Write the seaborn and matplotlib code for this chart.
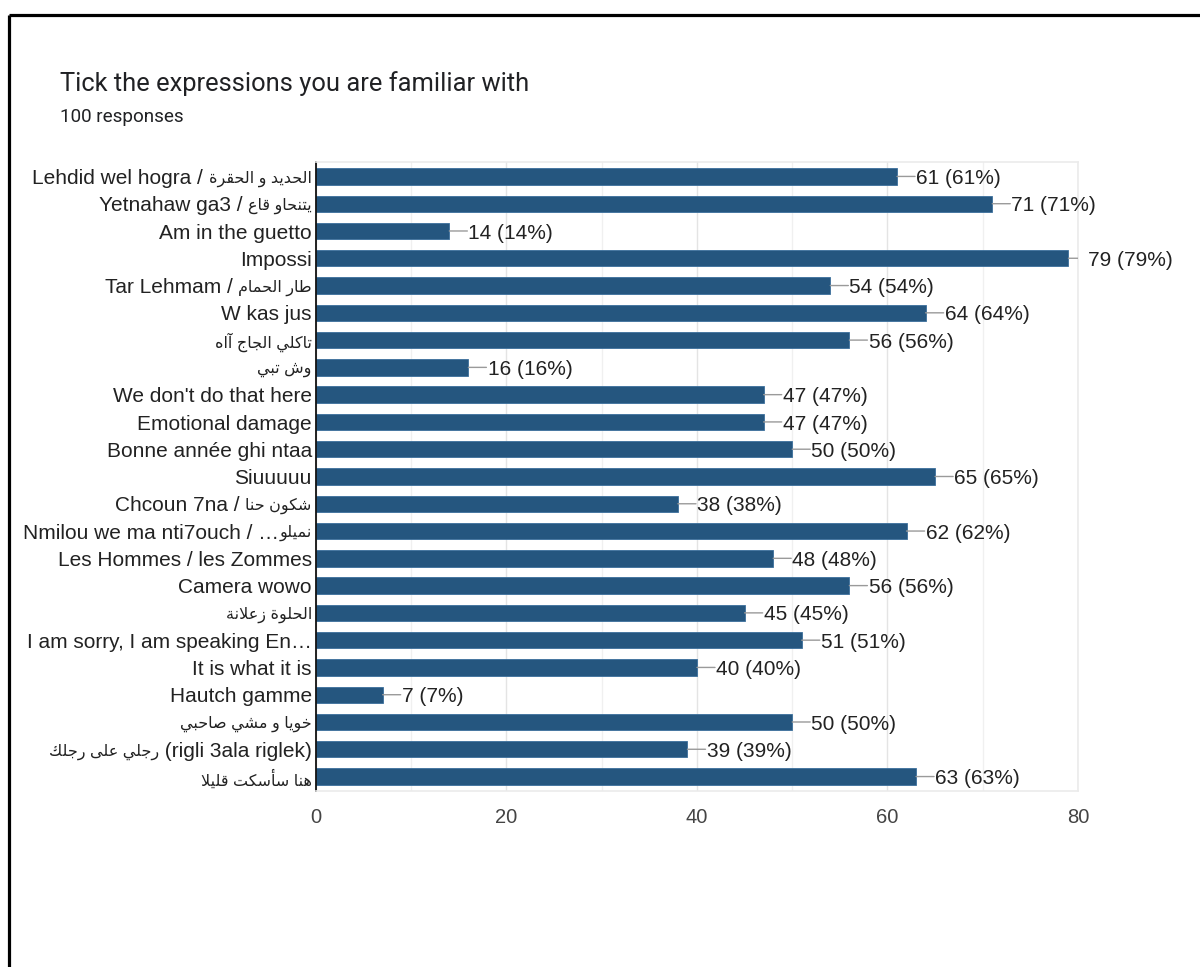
import re
import matplotlib
matplotlib.use("Agg")
import matplotlib.pyplot as plt
from matplotlib.lines import Line2D
from matplotlib.ticker import MultipleLocator
import seaborn as sns
import pandas as pd

# ---- data -----------------------------------------------------------------
title = "Tick the expressions you are familiar with"
n_responses = 100

expressions = [
    "Lehdid wel hogra / الحديد و الحقرة",
    "Yetnahaw ga3 / يتنحاو قاع",
    "Am in the guetto",
    "Impossi",
    "Tar Lehmam / طار الحمام",
    "W kas jus",
    "تاكلي الجاج آاه",
    "وش تبي",
    "We don't do that here",
    "Emotional damage",
    "Bonne année ghi ntaa",
    "Siuuuuu",
    "Chcoun 7na / شكون حنا",
    "Nmilou we ma nti7ouch / …نميلو",
    "Les Hommes / les Zommes",
    "Camera wowo",
    "الحلوة زعلانة",
    "I am sorry, I am speaking En…",
    "It is what it is",
    "Hautch gamme",
    "خويا و مشي صاحبي",
    "رجلي على رجلك (rigli 3ala riglek)",
    "هنا سأسكت قليلا",
]
counts = [61, 71, 14, 79, 54, 64, 56, 16, 47, 47, 50, 65, 38, 62, 48, 56,
          45, 51, 40, 7, 50, 39, 63]

x_ticks = [0, 20, 40, 60, 80]

# ---- minimal Arabic shaping (matplotlib has no complex text layout) -------
_letters = [chr(c) for c in list(range(0x621, 0x63B)) + list(range(0x641, 0x64B))]
_nforms = [1, 2, 2, 2, 2, 4, 2, 4, 2, 4, 4, 4, 4, 4, 2, 2, 2, 2, 4, 4,
           4, 4, 4, 4, 4, 4, 4, 4, 4, 4, 4, 4, 4, 2, 2, 4]
_forms = {}
_base = 0xFE80
for _ch, _n in zip(_letters, _nforms):
    _forms[_ch] = [chr(_base + k) for k in range(_n)]  # iso, fin, ini, med
    _base += _n
_LAM = "\u0644"
_LAMALEF = {"\u0622": 0xFEF5, "\u0623": 0xFEF7, "\u0625": 0xFEF9, "\u0627": 0xFEFB}


def _dual(ch):
    return ch in _forms and len(_forms[ch]) == 4


def _shape_run(run):
    chars = list(run)
    out = []
    i = 0
    n = len(chars)
    while i < n:
        c = chars[i]
        if c not in _forms:
            out.append(c)
            i += 1
            continue
        prev_join = i > 0 and _dual(chars[i - 1])
        if c == _LAM and i + 1 < n and chars[i + 1] in _LAMALEF:
            out.append(chr(_LAMALEF[chars[i + 1]] + (1 if prev_join else 0)))
            i += 2
            continue
        next_join = _dual(c) and i + 1 < n and chars[i + 1] in _forms
        f = _forms[c]
        if len(f) == 1:
            g = f[0]
        elif len(f) == 2:
            g = f[1] if prev_join else f[0]
        else:
            if prev_join and next_join:
                g = f[3]
            elif prev_join:
                g = f[1]
            elif next_join:
                g = f[2]
            else:
                g = f[0]
        out.append(g)
        i += 1
    return "".join(reversed(out))


_arabic_run = re.compile(r"[\u0600-\u06FF]+(?:\s+[\u0600-\u06FF]+)*")
_shaped_run = re.compile(r"([\uFE70-\uFEFF]+(?:\s+[\uFE70-\uFEFF]+)*)")


def display_segments(s):
    """Visual-order pieces of a label, each flagged as Arabic or not."""
    visual = _arabic_run.sub(lambda m: _shape_run(m.group(0)), s)
    parts = [p for p in _shaped_run.split(visual) if p]
    return [(p, bool(_shaped_run.fullmatch(p))) for p in parts]


# ---- style ----------------------------------------------------------------
sns.set_style("white")
plt.rcParams["font.family"] = ["Liberation Sans", "DejaVu Sans"]

bar_color = "#25567f"
text_color = "#222222"
latin_size = 15
arabic_size = 11.5
text_drop = -1.5  # points; puts the label's visual middle on the bar centre

df = pd.DataFrame({"expression": expressions, "count": counts})

fig = plt.figure(figsize=(12, 9.67), dpi=100)
ax = fig.add_axes([0.2633, 0.182, 0.635, 0.6505])

sns.barplot(data=df, x="count", y="expression", orient="h", color=bar_color,
            saturation=1, width=0.6, ax=ax, edgecolor="#3b6f9c", linewidth=0.6)

ax.set_xlim(0, 80)
ax.set_ylim(len(counts) - 0.47, -0.53)
ax.set_xticks(x_ticks)
ax.xaxis.set_minor_locator(MultipleLocator(10))
ax.grid(axis="x", which="major", color="#e4e4e4", linewidth=1)
ax.grid(axis="x", which="minor", color="#f0f0f0", linewidth=1)
ax.set_axisbelow(True)
ax.set_xlabel("")
ax.set_ylabel("")
ax.set_yticklabels([])

for side in ["top", "right", "bottom"]:
    ax.spines[side].set_color("#ebebeb")
    ax.spines[side].set_linewidth(1.2)
ax.spines["left"].set_color("#111111")
ax.spines["left"].set_linewidth(1.3)

ax.tick_params(axis="y", length=0)
ax.tick_params(axis="x", which="both", length=0, pad=12, labelsize=14.5,
               labelcolor="#444444")

# category labels: drawn right to left so Arabic pieces can use their own size
ytrans = ax.get_yaxis_transform()
for i, label in enumerate(expressions):
    segs = display_segments(label)
    prev = None
    for text, is_arabic in reversed(segs):
        size = arabic_size if is_arabic else latin_size
        if prev is None:
            prev = ax.annotate(text, xy=(0, i), xycoords=ytrans,
                               xytext=(-3, text_drop), textcoords="offset points",
                               ha="right", va="center", fontsize=size,
                               color=text_color, annotation_clip=False)
        else:
            prev = ax.annotate(text, xy=(0, 0.5), xycoords=prev, ha="right",
                               va="center", fontsize=size, color=text_color,
                               annotation_clip=False)

# value labels with short leader lines
for i, v in enumerate(counts):
    pct = round(v / n_responses * 100)
    ann = ax.annotate("", xy=(v, i), xytext=(13, 0), textcoords="offset points",
                      arrowprops=dict(arrowstyle="-", color="#9a9a9a", lw=1,
                                      shrinkA=0, shrinkB=0))
    ann.arrow_patch.set_clip_box(ax.bbox)
    ann.arrow_patch.set_clip_on(True)
    ax.annotate(f"{v} ({pct}%)", xy=(v, i), xytext=(13.8, text_drop),
                textcoords="offset points", ha="left", va="center",
                fontsize=latin_size, color=text_color, annotation_clip=False)

# heading
fig.text(0.05, 0.914, title, fontsize=18.4, family="Roboto", color="#202124",
         va="center", ha="left")
fig.text(0.05, 0.879, f"{n_responses} responses", fontsize=13.6, family="Roboto",
         color="#202124", va="center", ha="left")

# frame lines along the top and left edge
fig.add_artist(Line2D([0.0071, 1.0], [0.9845, 0.9845], transform=fig.transFigure,
                      color="black", linewidth=2.3, solid_capstyle="butt"))
fig.add_artist(Line2D([0.0071, 0.0071], [0.0, 0.9845], transform=fig.transFigure,
                      color="black", linewidth=2.3, solid_capstyle="butt"))

fig.savefig("out.png", dpi=100, facecolor="white")
